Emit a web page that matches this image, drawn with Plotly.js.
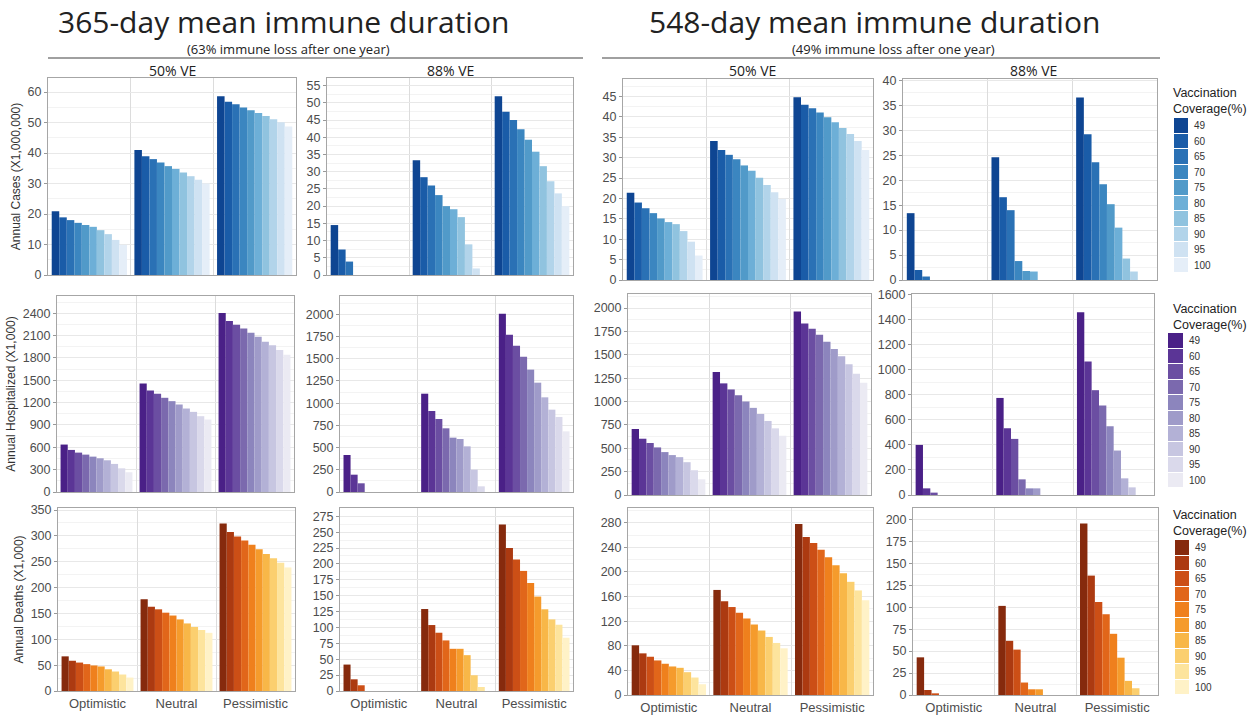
<!DOCTYPE html>
<html><head><meta charset="utf-8">
<script src="https://cdn.plot.ly/plotly-3.0.1.min.js"></script>
<style>html,body{margin:0;padding:0;background:#fff}#chart{width:1257px;height:715px}</style>
</head><body><div id="chart"></div>
<script>
const W = 1257, H = 715;
const scenarios = ["Optimistic", "Neutral", "Pessimistic"];
const coverage = ["49", "60", "65", "70", "75", "80", "85", "90", "95", "100"];

// each array: [Optimistic values by coverage], [Neutral ...], [Pessimistic ...]
const cases_365_ve50 = [
  [20.9, 18.9, 18.0, 17.1, 16.4, 15.8, 14.7, 13.4, 11.5, 9.9],
  [41.0, 38.9, 38.0, 36.9, 35.7, 34.8, 33.6, 32.4, 31.2, 30.0],
  [58.6, 56.8, 56.0, 54.9, 54.0, 53.1, 52.1, 51.1, 50.1, 48.7]];
const cases_365_ve88 = [
  [14.5, 7.4, 3.9, 0, 0, 0, 0, 0, 0, 0],
  [33.3, 28.4, 26.0, 23.2, 20.0, 19.1, 16.8, 8.9, 1.9, 0],
  [51.9, 47.4, 45.0, 42.3, 39.3, 35.8, 31.6, 27.2, 23.7, 20.0]];
const cases_548_ve50 = [
  [21.4, 19.0, 17.6, 16.4, 15.1, 14.2, 13.7, 12.0, 9.4, 6.0],
  [34.1, 31.9, 30.7, 29.6, 28.1, 26.8, 25.1, 23.3, 21.5, 19.9],
  [44.8, 43.0, 42.1, 41.1, 39.9, 38.7, 37.3, 35.8, 34.1, 31.9]];
const cases_548_ve88 = [
  [13.4, 2.0, 0.7, 0, 0, 0, 0, 0, 0, 0],
  [24.6, 16.6, 14.0, 3.8, 1.8, 1.7, 0, 0, 0, 0],
  [36.6, 29.2, 23.6, 19.2, 15.2, 10.5, 4.3, 1.7, 0, 0]];
const hosp_365_ve50 = [
  [637, 565, 529, 502, 475, 453, 426, 377, 318, 265],
  [1457, 1363, 1318, 1265, 1220, 1175, 1121, 1076, 1018, 973],
  [2404, 2296, 2247, 2197, 2139, 2085, 2018, 1969, 1906, 1843]];
const hosp_365_ve88 = [
  [417, 195, 98, 0, 0, 0, 0, 0, 0, 0],
  [1107, 912, 822, 717, 612, 597, 514, 252, 64, 0],
  [2008, 1772, 1648, 1524, 1378, 1231, 1066, 927, 845, 683]];
const hosp_548_ve50 = [
  [706, 602, 556, 509, 459, 427, 405, 351, 265, 168],
  [1315, 1194, 1129, 1068, 1000, 932, 867, 792, 713, 634],
  [1964, 1835, 1778, 1713, 1638, 1563, 1484, 1398, 1297, 1201]];
const hosp_548_ve88 = [
  [400, 53, 19, 0, 0, 0, 0, 0, 0, 0],
  [775, 533, 448, 125, 53, 53, 0, 0, 0, 0],
  [1459, 1067, 837, 715, 549, 355, 133, 61, 0, 0]];
const deaths_365_ve50 = [
  [67, 58.5, 55, 52, 49.4, 47.5, 42, 37.7, 31.9, 26],
  [177.5, 163, 158, 151.5, 146, 138.5, 130.7, 124, 118, 112.5],
  [324, 307.5, 299, 291, 283, 274, 265, 257, 248, 239]];
const deaths_365_ve88 = [
  [41.6, 18.4, 9, 0, 0, 0, 0, 0, 0, 0],
  [129, 103.8, 91.7, 79.6, 66.4, 66.4, 56.4, 24.8, 6.3, 0],
  [262, 225, 207, 189, 170, 148.6, 128.6, 112.7, 104.3, 83.8]];
const deaths_548_ve50 = [
  [80.8, 67.7, 62.2, 56.2, 50.8, 46.4, 44.2, 37.1, 28.4, 17.5],
  [170.8, 152.3, 143, 133.7, 124.4, 114.6, 104.8, 94.4, 84.6, 75.9],
  [278, 257, 247, 236, 224, 211, 198, 184, 170, 154]];
const deaths_548_ve88 = [
  [42.9, 5.7, 1.9, 0, 0, 0, 0, 0, 0, 0],
  [101.5, 61.7, 51.7, 14.2, 6.5, 6.5, 0, 0, 0, 0],
  [195.4, 136, 106, 92, 69.7, 42.5, 16.1, 7.7, 0, 0]];

const blues = ['#0e4592', '#1a5ca8', '#2a71b5', '#3b86c0', '#519ac9', '#6dafd7', '#90c3df', '#b2d4ea', '#cfe2f2', '#e5eef8'];
const purples = ['#4a2087', '#5b3596', '#6b4ea2', '#7b69ae', '#8c85bd', '#9f9bc9', '#b3b1d6', '#c7c6e1', '#dad9eb', '#ebeaf3'];
const oranges = ['#862a0d', '#ac3a11', '#cc4f16', '#e1661a', '#ef801d', '#f59b2c', '#f8b748', '#fbcf6f', '#fde49d', '#fff2c7'];

const yTitles = ["Annual Cases (X1,000,000)", "Annual Hospitalized (X1,000)", "Annual Deaths (X1,000)"];
const panelData = [
  [cases_365_ve50, cases_365_ve88, cases_548_ve50, cases_548_ve88],
  [hosp_365_ve50, hosp_365_ve88, hosp_548_ve50, hosp_548_ve88],
  [deaths_365_ve50, deaths_365_ve88, deaths_548_ve50, deaths_548_ve88]];
const rowColors = [blues, purples, oranges];

// layout geometry (pixels)
const yMax = [[64.6, 57.2, 49.3, 40.3], [2632, 2207, 2150, 1605], [354, 288, 304, 213]];
const yStep = [[10, 5, 5, 5], [300, 250, 250, 200], [50, 25, 40, 25]];
const colPxByRow = [
  [[48, 296], [327, 573], [623, 873], [903, 1157]],
  [[57, 294], [340, 573], [628, 871], [912, 1154]],
  [[58, 295], [340, 573], [628, 873], [913, 1158]]];
const rowPxLeft = [[78, 275], [296, 492], [508, 691]];
const rowPxRight = [[79, 280], [294, 495], [508, 695]];
const legPx = [{sx: [1174, 1188], sy: [118, 273], ty: 84}, {sx: [1168, 1183], sy: [333, 488], ty: 300}, {sx: [1175, 1189], sy: [540, 695], ty: 506}];

const fx = p => p / W;
const fy = p => 1 - p / H;

const traces = [];
const layout = {
  width: W, height: H, margin: {l: 0, r: 0, t: 0, b: 0},
  paper_bgcolor: '#fff', plot_bgcolor: '#fff',
  barmode: 'group', bargap: 0.09, bargroupgap: 0,
  showlegend: false,
  font: {family: 'Liberation Sans, Arial, sans-serif', color: '#4d4d4d'},
  annotations: [], shapes: []
};

for (let r = 0; r < 3; r++) {
  for (let c = 0; c < 4; c++) {
    const k = r * 4 + c + 1;
    const data = panelData[r][c];
    const cols = rowColors[r];
    for (let i = 0; i < coverage.length; i++) {
      traces.push({
        type: 'bar', x: scenarios, y: data.map(s => s[i]),
        name: coverage[i], marker: {color: cols[i], line: {width: 0}},
        xaxis: 'x' + k, yaxis: 'y' + k, hoverinfo: 'x+y+name'
      });
    }
    const rp = (c < 2 ? rowPxLeft : rowPxRight)[r];
    const cp = colPxByRow[r][c];
    layout['xaxis' + k] = {
      domain: [fx(cp[0]), fx(cp[1])], anchor: 'y' + k,
      type: 'category', tickson: 'boundaries', showgrid: true, gridcolor: '#dcdcdc', gridwidth: 1,
      ticks: '', showticklabels: r === 2, tickfont: {size: 13, color: '#4d4d4d'},
      showline: true, mirror: true, linecolor: '#a6a6a6', linewidth: 1, zeroline: false, fixedrange: true
    };
    layout['yaxis' + k] = {
      domain: [fy(rp[1]), fy(rp[0])], anchor: 'x' + k,
      range: [0, yMax[r][c]], dtick: yStep[r][c], tick0: 0,
      showgrid: true, gridcolor: '#e8e8e8', gridwidth: 1,
      minor: {dtick: yStep[r][c] / 2, showgrid: true, gridcolor: '#f3f3f3', gridwidth: 1},
      ticks: 'outside', ticklen: 3, tickcolor: '#999', tickfont: {size: 12.5, color: '#4d4d4d'},
      showline: true, mirror: true, linecolor: '#a6a6a6', linewidth: 1, zeroline: false, fixedrange: true,
      title: c === 0 ? {text: yTitles[r], font: {size: 12, color: '#333'}, standoff: 4} : {text: ''}
    };
  }
  // legend as heatmap swatches
  const k = 13 + r;
  const cols = rowColors[r];
  traces.push({
    type: 'heatmap', x: ['c'], y: coverage, z: coverage.map((_, i) => [i]),
    zmin: 0, zmax: coverage.length - 1,
    colorscale: cols.map((col, i) => [i / (cols.length - 1), col]),
    showscale: false, ygap: 1, hoverinfo: 'y',
    xaxis: 'x' + k, yaxis: 'y' + k
  });
  const lp = legPx[r];
  layout['xaxis' + k] = {domain: [fx(lp.sx[0]), fx(lp.sx[1])], anchor: 'y' + k, visible: false, fixedrange: true};
  layout['yaxis' + k] = {
    domain: [fy(lp.sy[1]), fy(lp.sy[0])], anchor: 'x' + k, type: 'category', autorange: 'reversed',
    side: 'right', showgrid: false, zeroline: false, showline: false, ticks: '', ticklabelstandoff: 5,
    tickfont: {size: 10, color: '#333'}, fixedrange: true
  };
  layout.annotations.push({
    text: 'Vaccination<br>Coverage(%)', xref: 'paper', yref: 'paper', x: fx(1171), y: fy(lp.ty),
    xanchor: 'left', yanchor: 'top', align: 'left', showarrow: false,
    font: {family: 'Liberation Sans, Arial, sans-serif', size: 12.5, color: '#222'}
  });
}

// headers
const headers = [
  {t: '365-day mean immune duration', s: '(63% immune loss after one year)', cx: 283, scx: 288, line: [48, 583], ve: [172, 450]},
  {t: '548-day mean immune duration', s: '(49% immune loss after one year)', cx: 874, scx: 893, line: [602, 1160], ve: [752, 1033]}
];
const veLabels = ['50% VE', '88% VE'];
headers.forEach(h => {
  layout.annotations.push({text: h.t, xref: 'paper', yref: 'paper', x: fx(h.cx), y: fy(21.5), xanchor: 'center', yanchor: 'middle', showarrow: false,
    borderpad: 0, font: {family: 'Open Sans, sans-serif', size: 30, color: '#222'}});
  layout.annotations.push({text: h.s, xref: 'paper', yref: 'paper', x: fx(h.scx), y: fy(49.5), xanchor: 'center', yanchor: 'middle', showarrow: false,
    borderpad: 0, font: {family: 'Open Sans, sans-serif', size: 13, color: '#222'}});
  layout.shapes.push({type: 'line', xref: 'paper', yref: 'paper', x0: fx(h.line[0]), x1: fx(h.line[1]), y0: fy(58), y1: fy(58),
    line: {color: '#808080', width: 1.5}});
  h.ve.forEach((vx, j) => {
    layout.annotations.push({text: veLabels[j], xref: 'paper', yref: 'paper', x: fx(vx), y: fy(70), xanchor: 'center', yanchor: 'middle', showarrow: false,
      font: {family: 'Open Sans, sans-serif', size: 14, color: '#222'}});
  });
});

Plotly.newPlot('chart', traces, layout, {displayModeBar: false, staticPlot: true});
</script>
</body></html>
